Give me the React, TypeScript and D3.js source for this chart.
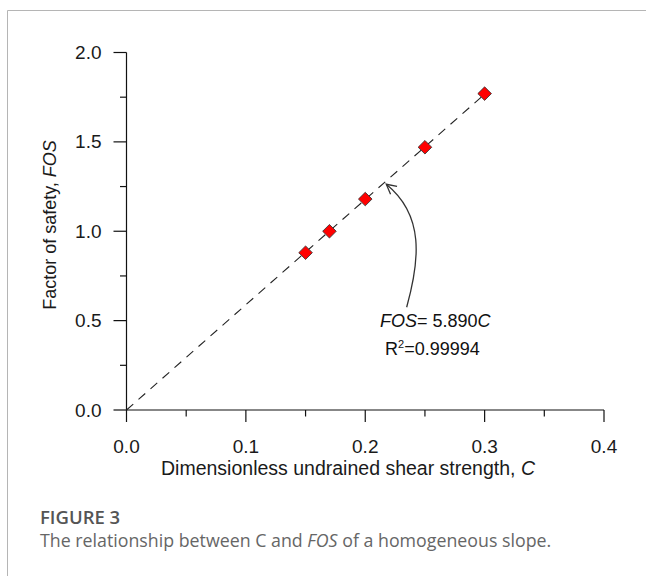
import React from "react";
import * as d3 from "d3";

const cValues = [0.15, 0.17, 0.2, 0.25, 0.3];
const fosValues = [0.88, 1.0, 1.18, 1.47, 1.77];
const slope = 5.89;
const fitRange = [0, 0.3];
const xTicks = [0, 0.1, 0.2, 0.3, 0.4];
const xMinor = [0.05, 0.15, 0.25, 0.35];
const yTicks = [0, 0.5, 1.0, 1.5, 2.0];
const yMinor = [0.25, 0.75, 1.25, 1.75];
// annotation arrow in data units: start, control1, control2, tip
const arrowPts: [number, number][] = [
  [0.2347, 0.575],
  [0.2456, 0.838],
  [0.2498, 1.089],
  [0.2176, 1.263],
];

const W = 646;
const H = 576;

export default function App() {
  const x = d3.scaleLinear().domain([0, 0.4]).range([126.5, 604]);
  const y = d3.scaleLinear().domain([0, 2]).range([410, 52.5]);
  const font = "'Liberation Sans', Arial, sans-serif";

  const fitLine = d3
    .line<number>()
    .x((c) => x(c))
    .y((c) => y(slope * c))(fitRange) as string;

  const diamond = d3.symbol().type(d3.symbolSquare).size(92)() as string;

  const ap = arrowPts.map(([c, f]) => [x(c), y(f)]);
  const arrowPath = `M${ap[0][0]},${ap[0][1]} C${ap[1][0]},${ap[1][1]} ${ap[2][0]},${ap[2][1]} ${ap[3][0]},${ap[3][1]}`;
  const tip = ap[3];
  const dx = tip[0] - ap[2][0];
  const dy = tip[1] - ap[2][1];
  const ang = Math.atan2(dy, dx);
  const hl = 11;
  const spread = (28 * Math.PI) / 180;
  const a1 = [tip[0] - hl * Math.cos(ang - spread), tip[1] - hl * Math.sin(ang - spread)];
  const a2 = [tip[0] - hl * Math.cos(ang + spread), tip[1] - hl * Math.sin(ang + spread)];
  const headPath = `M${a1[0]},${a1[1]} L${tip[0]},${tip[1]} L${a2[0]},${a2[1]}`;

  const y0 = y(0);
  const x0 = x(0);

  return (
    <div style={{ position: "absolute", left: 0, top: 0 }}>
      <svg width={W} height={H} style={{ display: "block", background: "#fff" }}>
        {/* frame */}
        <line x1={7.5} x2={W} y1={10.5} y2={10.5} stroke="#b5b5b5" strokeWidth={1} />
        <line x1={7.5} x2={7.5} y1={10.5} y2={H} stroke="#b5b5b5" strokeWidth={1} />

        {/* axes */}
        <g stroke="#111" strokeWidth={1.2} fill="none">
          <line x1={x0} x2={x(0.4)} y1={y0} y2={y0} />
          <line x1={x0} x2={x0} y1={y0} y2={y(2)} />
          {xTicks.map((t) => (
            <line key={"xt" + t} x1={x(t)} x2={x(t)} y1={y0} y2={y0 + 12} />
          ))}
          {xMinor.map((t) => (
            <line key={"xm" + t} x1={x(t)} x2={x(t)} y1={y0} y2={y0 + 6.5} />
          ))}
          {yTicks.map((t) => (
            <line key={"yt" + t} x1={x0 - 13} x2={x0} y1={y(t)} y2={y(t)} />
          ))}
          {yMinor.map((t) => (
            <line key={"ym" + t} x1={x0 - 6.5} x2={x0} y1={y(t)} y2={y(t)} />
          ))}
        </g>

        <g fontFamily={font} fontSize={19} fill="#1a1a1a">
          {xTicks.map((t) => (
            <text key={"xl" + t} x={x(t)} y={y0 + 43} textAnchor="middle">
              {d3.format(".1f")(t)}
            </text>
          ))}
          {yTicks.map((t) => (
            <text key={"yl" + t} x={x0 - 25} y={y(t) + 6.5} textAnchor="end">
              {d3.format(".1f")(t)}
            </text>
          ))}
          <text x={348} y={475} textAnchor="middle" fontSize={19.5}>
            Dimensionless undrained shear strength, <tspan fontStyle="italic">C</tspan>
          </text>
          <text transform={`translate(56,225) rotate(-90)`} textAnchor="middle" fontSize={18}>
            Factor of safety, <tspan fontStyle="italic">FOS</tspan>
          </text>
        </g>

        {/* fit line */}
        <path d={fitLine} stroke="#222" strokeWidth={1.1} strokeDasharray="9,7" fill="none" />

        {/* points */}
        {cValues.map((c, i) => (
          <path
            key={"p" + i}
            d={diamond}
            transform={`translate(${x(c)},${y(fosValues[i])}) rotate(45)`}
            fill="#ff0000"
            stroke="#333"
            strokeWidth={0.8}
          />
        ))}

        {/* annotation */}
        <path d={arrowPath} stroke="#333" strokeWidth={1.3} fill="none" />
        <path d={headPath} stroke="#333" strokeWidth={1.3} fill="none" />
        <g fontFamily={font} fontSize={18} fill="#111">
          <text x={380} y={327}>
            <tspan fontStyle="italic">FOS</tspan>
            <tspan>= 5.890</tspan>
            <tspan fontStyle="italic">C</tspan>
          </text>
          <text x={385} y={355}>
            R<tspan fontSize={11} dy={-7}>2</tspan>
            <tspan dy={7}>=0.99994</tspan>
          </text>
        </g>

        {/* caption */}
        <text x={40} y={524} fontFamily="'Open Sans', sans-serif" fontWeight={600} fontSize={18.5} fill="#555">
          FIGURE 3
        </text>
        <text x={40} y={547} fontFamily="'Open Sans', sans-serif" fontSize={17.8} fill="#666">
          The relationship between C and <tspan fontStyle="italic">FOS</tspan> of a homogeneous slope.
        </text>
      </svg>
    </div>
  );
}
